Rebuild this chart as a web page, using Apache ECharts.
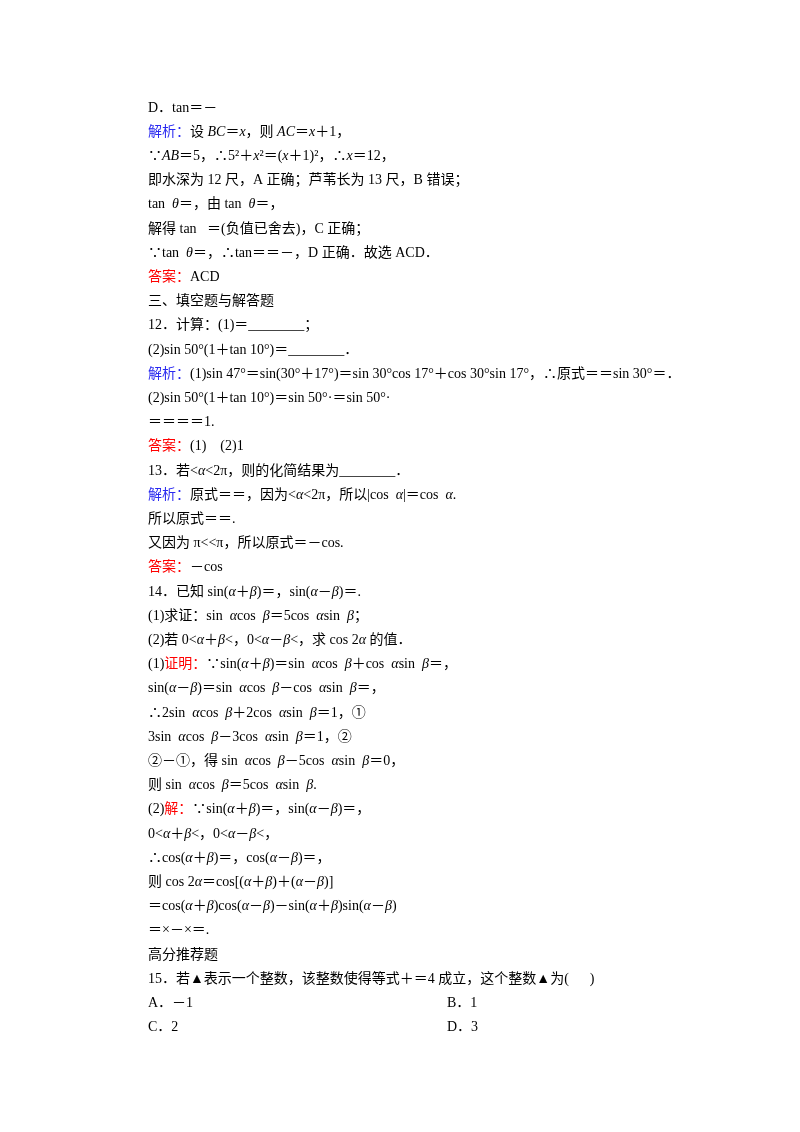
<!DOCTYPE html>
<html><head><meta charset="utf-8">
<script src="https://cdn.jsdelivr.net/npm/echarts@6/dist/echarts.min.js"></script>
<style>html,body{margin:0;padding:0;background:#fff}#c{width:800px;height:1132px}</style>
</head><body><div id="c"></div>
<script>
// 每行文本，{b|..} 蓝色，{r|..} 红色
var lines = [
  'D．tan＝－',
  '{b|解析：}设 {i|BC}＝{i|x}，则 {i|AC}＝{i|x}＋1，',
  '∵{i|AB}＝5，∴5²＋{i|x}²＝({i|x}＋1)²，∴{i|x}＝12，',
  '即水深为 12 尺，A 正确；芦苇长为 13 尺，B 错误；',
  'tan  {i|θ}＝，由 tan  {i|θ}＝，',
  '解得 tan   ＝(负值已舍去)，C 正确；',
  '∵tan  {i|θ}＝，∴tan＝＝－，D 正确．故选 ACD．',
  '{r|答案：}ACD',
  '三、填空题与解答题',
  '12．计算：(1)＝________；',
  '(2)sin 50°(1＋tan 10°)＝________．',
  '{b|解析：}(1)sin 47°＝sin(30°＋17°)＝sin 30°cos 17°＋cos 30°sin 17°，∴原式＝＝sin 30°＝．',
  '(2)sin 50°(1＋tan 10°)＝sin 50°·＝sin 50°·',
  '＝＝＝＝1.',
  '{r|答案：}(1)    (2)1',
  '13．若<{i|α}<2π，则的化简结果为________．',
  '{b|解析：}原式＝＝，因为<{i|α}<2π，所以|cos  {i|α}|＝cos  {i|α}.',
  '所以原式＝＝.',
  '又因为 π<<π，所以原式＝－cos.',
  '{r|答案：}－cos',
  '14．已知 sin({i|α}＋{i|β})＝，sin({i|α}－{i|β})＝.',
  '(1)求证：sin  {i|α}cos  {i|β}＝5cos  {i|α}sin  {i|β}；',
  '(2)若 0<{i|α}＋{i|β}<，0<{i|α}－{i|β}<，求 cos 2{i|α} 的值．',
  '(1){r|证明：}∵sin({i|α}＋{i|β})＝sin  {i|α}cos  {i|β}＋cos  {i|α}sin  {i|β}＝，',
  'sin({i|α}－{i|β})＝sin  {i|α}cos  {i|β}－cos  {i|α}sin  {i|β}＝，',
  '∴2sin  {i|α}cos  {i|β}＋2cos  {i|α}sin  {i|β}＝1，①',
  '3sin  {i|α}cos  {i|β}－3cos  {i|α}sin  {i|β}＝1，②',
  '②－①，得 sin  {i|α}cos  {i|β}－5cos  {i|α}sin  {i|β}＝0，',
  '则 sin  {i|α}cos  {i|β}＝5cos  {i|α}sin  {i|β}.',
  '(2){r|解：}∵sin({i|α}＋{i|β})＝，sin({i|α}－{i|β})＝，',
  '0<{i|α}＋{i|β}<，0<{i|α}－{i|β}<，',
  '∴cos({i|α}＋{i|β})＝，cos({i|α}－{i|β})＝，',
  '则 cos 2{i|α}＝cos[({i|α}＋{i|β})＋({i|α}－{i|β})]',
  '＝cos({i|α}＋{i|β})cos({i|α}－{i|β})－sin({i|α}＋{i|β})sin({i|α}－{i|β})',
  '＝×－×＝.',
  '高分推荐题',
  '15．若▲表示一个整数，该整数使得等式＋＝4 成立，这个整数▲为(      )'
];
var options = [['A．－1', 'B．1'], ['C．2', 'D．3']];

var font = '"Liberation Serif","Noto Sans CJK SC",serif';
var rich = {
  b: {fill: '#2a2af0', fontSize: 14, fontFamily: font},
  r: {fill: '#ff0000', fontSize: 14, fontFamily: font},
  i: {fill: '#000', fontSize: 14, fontStyle: 'italic', fontFamily: font}
};
var top0 = 108, step = 24.2, left = 148;
var graphic = [];
lines.forEach(function (t, k) {
  graphic.push({type: 'text', left: left, top: top0 + k * step - 7,
    style: {text: t, fill: '#000', fontSize: 14, fontFamily: font, rich: rich}});
});
options.forEach(function (row, k) {
  var y = top0 + (lines.length + k) * step - 7;
  graphic.push({type: 'text', left: left, top: y, style: {text: row[0], fill: '#000', fontSize: 14, fontFamily: font}});
  graphic.push({type: 'text', left: 447, top: y, style: {text: row[1], fill: '#000', fontSize: 14, fontFamily: font}});
});

var chart = echarts.init(document.getElementById('c'));
chart.setOption({backgroundColor: '#ffffff', graphic: graphic});
</script></body></html>
